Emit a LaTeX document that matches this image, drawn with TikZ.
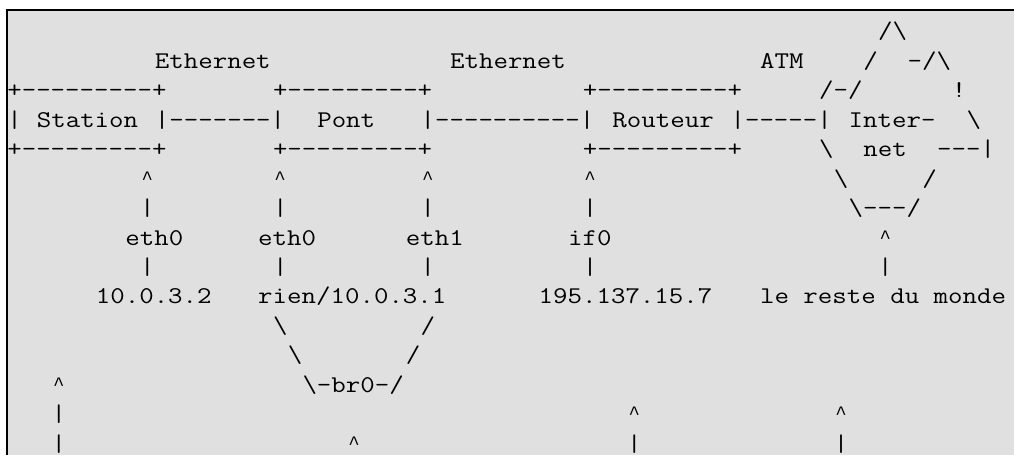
\documentclass[tikz,border=0pt]{standalone}
\usepackage{fontspec}
\setmonofont[FakeStretch=1.171]{Latin Modern Mono}
\newfontfamily\caretfont{Liberation Mono}
\definecolor{pregray}{RGB}{224,224,224}
\tikzset{
  ascii/.style={font=\ttfamily\fontsize{24}{29}\selectfont, anchor=base west, inner sep=0pt},
  caret/.style={font=\caretfont\fontsize{19}{22}\selectfont, anchor=base, inner sep=0pt, xshift=7.38pt, yshift=2pt}
}
\begin{document}
\begin{tikzpicture}[x=1pt,y=-1pt]
  \useasboundingbox (0,0) rectangle (1014,455);
  \fill[pregray] (7,10) rectangle (1014,455);
  \draw[line width=2pt] (7,455) -- (7,10.3) -- (1014,10.3);

  \begin{scope}[shift={(7.12,38.8)}, x=14.76pt, y=-29.46pt]
    % cloud and labels on top
    \node[ascii] (cloudtop) at (59,0) {/\textbackslash};
    \node[ascii] (etherA) at (10,1) {Ethernet};
    \node[ascii] (etherB) at (30,1) {Ethernet};
    \node[ascii] (atm) at (51,1) {ATM};
    \node[ascii] (cloudl) at (58,1) {/};
    \node[ascii] (cloudr) at (61,1) {-/\textbackslash};

    % boxes
    \node[ascii] (sttop) at (0,2) {+---------+};
    \node[ascii] (pttop) at (18,2) {+---------+};
    \node[ascii] (rttop) at (39,2) {+---------+};
    \node[ascii] (inettl) at (55,2) {/-/};
    \node[ascii] (inettr) at (64,2) {!};

    \node[ascii] (stleft) at (0,3) {|};
    \node[ascii] (station) at (2,3) {Station};
    \node[ascii] (linkA) at (10,3) {|-------|};
    \node[ascii] (pont) at (21,3) {Pont};
    \node[ascii] (linkB) at (28,3) {|----------|};
    \node[ascii] (routeur) at (41,3) {Routeur};
    \node[ascii] (linkC) at (49,3) {|-----|};
    \node[ascii] (inter) at (57,3) {Inter-};
    \node[ascii] (inetr) at (65,3) {\textbackslash};

    \node[ascii] (stbot) at (0,4) {+---------+};
    \node[ascii] (ptbot) at (18,4) {+---------+};
    \node[ascii] (rtbot) at (39,4) {+---------+};
    \node[ascii] (inetbl) at (55,4) {\textbackslash};
    \node[ascii] (net) at (58,4) {net};
    \node[ascii] (inetbr) at (63,4) {---|};

    % interfaces
    \node[caret] (upA) at (9,5) {\textasciicircum};
    \node[caret] (upB) at (18,5) {\textasciicircum};
    \node[caret] (upC) at (28,5) {\textasciicircum};
    \node[caret] (upD) at (39,5) {\textasciicircum};
    \node[ascii] (cloudbl) at (56,5) {\textbackslash};
    \node[ascii] (cloudbr) at (62,5) {/};

    \node[ascii] (barA) at (9,6) {|};
    \node[ascii] (barB) at (18,6) {|};
    \node[ascii] (barC) at (28,6) {|};
    \node[ascii] (barD) at (39,6) {|};
    \node[ascii] (cloudbot) at (57,6) {\textbackslash---/};

    \node[ascii] (ethst) at (8,7) {eth0};
    \node[ascii] (ethpA) at (17,7) {eth0};
    \node[ascii] (ethpB) at (27,7) {eth1};
    \node[ascii] (ifrt) at (38,7) {if0};
    \node[caret] (upE) at (59,7) {\textasciicircum};

    \node[ascii] (barE) at (9,8) {|};
    \node[ascii] (barF) at (18,8) {|};
    \node[ascii] (barG) at (28,8) {|};
    \node[ascii] (barH) at (39,8) {|};
    \node[ascii] (barI) at (59,8) {|};

    % addresses
    \node[ascii] (ipst) at (6,9) {10.0.3.2};
    \node[ascii] (ippt) at (17,9) {rien/10.0.3.1};
    \node[ascii] (iprt) at (36,9) {195.137.15.7};
    \node[ascii] (monde) at (51,9) {le reste du monde};

    % bridge
    \node[ascii] (brlA) at (18,10) {\textbackslash};
    \node[ascii] (brrA) at (28,10) {/};
    \node[ascii] (brlB) at (19,11) {\textbackslash};
    \node[ascii] (brrB) at (27,11) {/};
    \node[caret] (upF) at (3,12) {\textasciicircum};
    \node[ascii] (br) at (20,12) {\textbackslash-br0-/};

    % lower arrows
    \node[ascii] (barJ) at (3,13) {|};
    \node[caret] (upG) at (42,13) {\textasciicircum};
    \node[caret] (upH) at (56,13) {\textasciicircum};
    \node[ascii] (barK) at (3,14) {|};
    \node[caret] (upI) at (23,14) {\textasciicircum};
    \node[ascii] (barL) at (42,14) {|};
    \node[ascii] (barM) at (56,14) {|};
  \end{scope}
\end{tikzpicture}
\end{document}
